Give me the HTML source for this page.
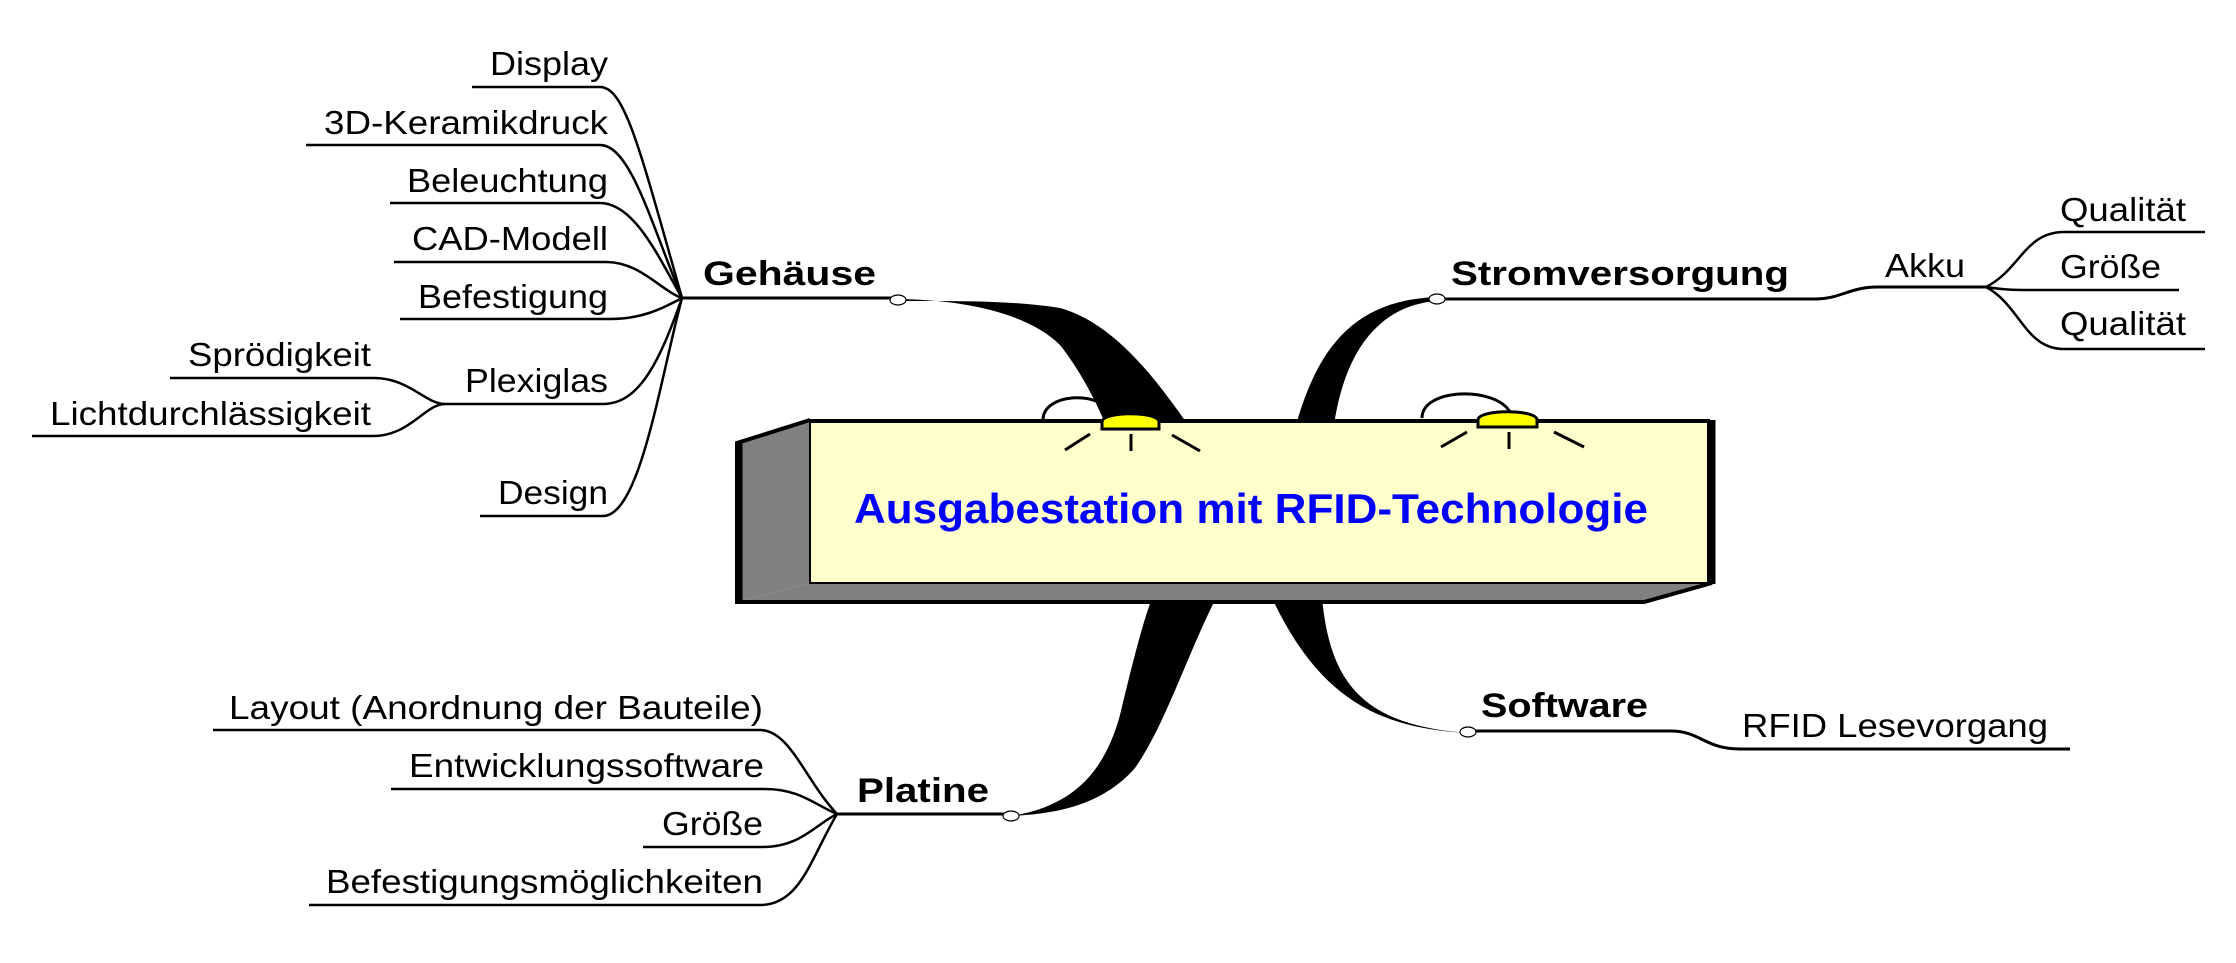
<!DOCTYPE html>
<html><head><meta charset="utf-8"><style>
html,body{margin:0;padding:0;background:#fff;}
svg{display:block;}
text{font-family:"Liberation Sans",sans-serif;fill:#000;}
.r{font-size:33px;}
.b{font-size:34px;font-weight:bold;}
</style></head><body>
<svg width="2236" height="963" viewBox="0 0 2236 963" xmlns="http://www.w3.org/2000/svg">
<g fill="none" stroke="#000" stroke-width="2.5">
<path d="M472,87 L600,87 C625,87 640,150 682,298"/>
<path d="M306,145 L600,145 C630,145 650,220 682,298"/>
<path d="M390,203 L600,203 C635,203 660,260 682,298"/>
<path d="M394,262 L606,262 C640,262 660,290 682,298"/>
<path d="M400,319 L610,319 C640,319 660,310 682,298"/>
<path d="M445,404 L603,404 C640,404 660,360 682,298"/>
<path d="M480,516 L603,516 C640,516 660,380 682,298"/>
<path d="M170,378 L373,378 C410,378 425,404 445,404"/>
<path d="M32,436 L373,436 C410,436 425,404 445,404"/>
<path d="M682,298 L896,298" stroke-width="3"/>
<path d="M1439,299 L1816,299 C1840,299 1850,287 1877,287 L1986,287" stroke-width="3"/>
<path d="M1986,287 C2020,270 2025,232 2064,232 L2205,232"/>
<path d="M1986,287 C2005,290 2015,290 2034,290 L2179,290"/>
<path d="M1986,287 C2020,305 2025,349 2064,349 L2205,349"/>
<path d="M213,730 L760,730 C790,730 805,780 837,814"/>
<path d="M391,789 L765,789 C800,789 815,805 837,814"/>
<path d="M643,847 L763,847 C800,847 815,825 837,814"/>
<path d="M309,905 L760,905 C800,905 810,860 837,814"/>
<path d="M837,814 L1009,814" stroke-width="3"/>
<path d="M1469,731 L1671,731 C1700,731 1705,749 1740,749 L2070,749" stroke-width="3"/>
</g>
<g fill="#000">
<path d="M898,299 C970,300 1030,315 1060,345 C1080,370 1095,400 1106,425 L1188,425 C1150,370 1110,322 1060,308 C1010,300 950,301 898,301 Z"/>
<path d="M1437,297 C1360,300 1320,340 1296,425 L1334,425 C1345,350 1380,305 1437,301 Z"/>
<path d="M1152,598 L1216,598 C1185,660 1165,725 1135,768 C1100,808 1050,814 1011,816 C1075,806 1105,770 1120,715 C1132,665 1142,625 1152,598 Z"/>
<path d="M1272,598 L1322,598 C1330,680 1360,725 1467,733 C1380,728 1320,700 1272,598 Z"/>
</g>
<g fill="#fff" stroke="#000" stroke-width="1.2">
<ellipse cx="898" cy="300" rx="8" ry="5"/>
<ellipse cx="1437" cy="299" rx="8" ry="5"/>
<ellipse cx="1011" cy="816" rx="8" ry="5"/>
<ellipse cx="1468" cy="732" rx="8" ry="5"/>
</g>
<polygon points="737,443 810,420 810,583 737,602" fill="#808080"/>
<polygon points="737,602 810,583 1712,583 1644,602" fill="#808080"/>
<polyline points="810,420 737,443 737,602 1644,602 1712,583" fill="none" stroke="#000" stroke-width="4"/>
<line x1="739" y1="443" x2="739" y2="602" stroke="#000" stroke-width="7"/>
<rect x="810" y="420" width="898" height="163" fill="#ffffcc" stroke="#000" stroke-width="2"/>
<line x1="810" y1="421" x2="1710" y2="421" stroke="#000" stroke-width="4"/>
<line x1="1712" y1="420" x2="1712" y2="584" stroke="#000" stroke-width="7"/>
<g fill="none" stroke="#000" stroke-width="3">
<path d="M1043,420 C1043,393 1100,390 1112,414"/>
<path d="M1422,418 C1422,388 1495,386 1510,412"/>
<line x1="1090" y1="434" x2="1065" y2="450"/>
<line x1="1131" y1="434" x2="1131" y2="451"/>
<line x1="1172" y1="435" x2="1200" y2="451"/>
<line x1="1467" y1="432" x2="1441" y2="447"/>
<line x1="1509" y1="432" x2="1509" y2="449"/>
<line x1="1554" y1="432" x2="1584" y2="447"/>
</g>
<path d="M1102,429 L1102,422 C1102,411 1159,411 1159,422 L1159,429 Z" fill="#ffff00" stroke="#000" stroke-width="3"/>
<path d="M1478,427 L1478,420 C1478,409 1537,409 1537,420 L1537,427 Z" fill="#ffff00" stroke="#000" stroke-width="3"/>
<text x="854" y="523" textLength="794" lengthAdjust="spacingAndGlyphs" style="font-size:42px;font-weight:bold;fill:#0000ff">Ausgabestation mit RFID-Technologie</text>
<g class="r">
<text x="490" y="75" textLength="118" lengthAdjust="spacingAndGlyphs">Display</text>
<text x="324" y="134" textLength="284" lengthAdjust="spacingAndGlyphs">3D-Keramikdruck</text>
<text x="407" y="192" textLength="201" lengthAdjust="spacingAndGlyphs">Beleuchtung</text>
<text x="412" y="250" textLength="196" lengthAdjust="spacingAndGlyphs">CAD-Modell</text>
<text x="418" y="308" textLength="190" lengthAdjust="spacingAndGlyphs">Befestigung</text>
<text x="465" y="392" textLength="143" lengthAdjust="spacingAndGlyphs">Plexiglas</text>
<text x="498" y="504" textLength="110" lengthAdjust="spacingAndGlyphs">Design</text>
<text x="188" y="366" textLength="183" lengthAdjust="spacingAndGlyphs">Sprödigkeit</text>
<text x="50" y="425" textLength="321" lengthAdjust="spacingAndGlyphs">Lichtdurchlässigkeit</text>
<text x="1885" y="277" textLength="80" lengthAdjust="spacingAndGlyphs">Akku</text>
<text x="2060" y="221" textLength="126" lengthAdjust="spacingAndGlyphs">Qualität</text>
<text x="2060" y="278" textLength="101" lengthAdjust="spacingAndGlyphs">Größe</text>
<text x="2060" y="335" textLength="126" lengthAdjust="spacingAndGlyphs">Qualität</text>
<text x="229" y="719" textLength="534" lengthAdjust="spacingAndGlyphs">Layout (Anordnung der Bauteile)</text>
<text x="409" y="777" textLength="355" lengthAdjust="spacingAndGlyphs">Entwicklungssoftware</text>
<text x="662" y="835" textLength="101" lengthAdjust="spacingAndGlyphs">Größe</text>
<text x="326" y="893" textLength="437" lengthAdjust="spacingAndGlyphs">Befestigungsmöglichkeiten</text>
<text x="1742" y="737" textLength="306" lengthAdjust="spacingAndGlyphs">RFID Lesevorgang</text>
</g>
<g class="b">
<text x="703" y="285" textLength="173" lengthAdjust="spacingAndGlyphs">Gehäuse</text>
<text x="1451" y="285" textLength="338" lengthAdjust="spacingAndGlyphs">Stromversorgung</text>
<text x="857" y="802" textLength="132" lengthAdjust="spacingAndGlyphs">Platine</text>
<text x="1481" y="717" textLength="167" lengthAdjust="spacingAndGlyphs">Software</text>
</g>
</svg>
</body></html>
